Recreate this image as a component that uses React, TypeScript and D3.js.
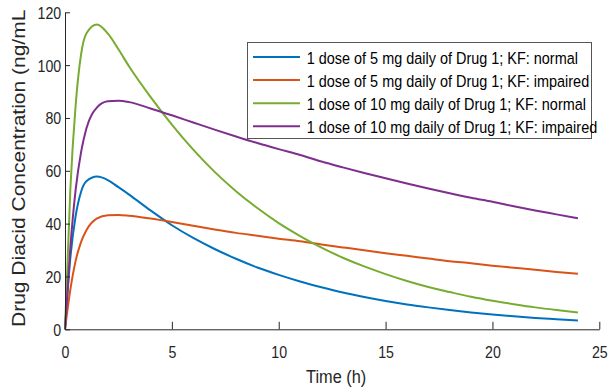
import * as React from "react";
import * as d3 from "d3";

// hours after the dose
const times = [
  0, 0.25, 0.5, 0.75, 1, 1.5, 2, 2.5, 3, 4, 5, 6, 7, 8, 9, 10, 11, 12, 13, 14,
  15, 16, 17, 18, 19, 20, 21, 22, 23, 24,
];

// concentrations (ng/mL)
const dose5Normal = [
  0, 27, 43, 52, 56, 57.8, 56.5, 53.8, 51, 45, 39.4, 34.6, 30.4, 26.7, 23.4,
  20.6, 18.1, 15.9, 13.9, 12.2, 10.7, 9.4, 8.3, 7.3, 6.4, 5.6, 4.9, 4.3, 3.8,
  3.3,
];
const dose5Impaired = [
  0, 15, 26, 33, 37.5, 42, 43.2, 43.3, 43, 41.9, 40.6, 39.2, 37.8, 36.5, 35.4,
  34.3, 33.3, 32.1, 31, 29.9, 28.8, 27.8, 26.8, 25.8, 25, 24.1, 23.3, 22.5,
  21.7, 21.0,
];
const dose10Normal = [
  0, 53, 85, 104, 112, 115.4, 112, 106, 99.5, 88, 77.5, 68, 59.6, 52.3, 45.9,
  40.2, 35.3, 30.9, 27.1, 23.8, 20.9, 18.3, 16.0, 14.1, 12.3, 10.8, 9.5, 8.3,
  7.3, 6.4,
];
const dose10Impaired = [
  0, 31, 53, 67, 76, 84, 86.3, 86.5, 86, 83.6, 81, 78.3, 75.6, 73, 70.5, 68.2,
  66, 63.5, 61.3, 59.2, 57.2, 55.2, 53.3, 51.5, 49.8, 48.3, 46.6, 45, 43.5, 42,
];

const seriesNames = [
  "1 dose of 5 mg daily of Drug 1; KF: normal",
  "1 dose of 5 mg daily of Drug 1; KF: impaired",
  "1 dose of 10 mg daily of Drug 1; KF: normal",
  "1 dose of 10 mg daily of Drug 1; KF: impaired",
];
const seriesColors = ["#0072BD", "#D95319", "#77AC30", "#7E2F8E"];

const xTicks = [0, 5, 10, 15, 20, 25];
const yTicks = [0, 20, 40, 60, 80, 100, 120];

const width = 608;
const height = 387;
const font = '"Liberation Sans", Arial, Helvetica, sans-serif';
const squeeze = 0.86; // text in the figure is a bit narrow
const axisColor = "#262626";

export default function App() {
  const ref = React.useRef<SVGSVGElement>(null);

  React.useEffect(() => {
    const svg = d3.select(ref.current);
    svg.selectAll("*").remove();

    const x = d3.scaleLinear().domain([0, 25]).range([65, 599.3]);
    const y = d3.scaleLinear().domain([0, 120]).range([329.3, 12.3]);

    const series = [dose5Normal, dose5Impaired, dose10Normal, dose10Impaired];

    const line = d3
      .line<number>()
      .x((_, i) => x(times[i]))
      .y((d) => y(d))
      .curve(d3.curveMonotoneX);

    svg
      .append("g")
      .selectAll("path")
      .data(series)
      .join("path")
      .attr("d", (d) => line(d))
      .attr("fill", "none")
      .attr("stroke", (_, i) => seriesColors[i])
      .attr("stroke-width", 2);

    // axes, ticks pointing in like matlab
    const xAxis = d3
      .axisBottom(x)
      .tickValues(xTicks)
      .tickSizeInner(-7.5)
      .tickSizeOuter(0)
      .tickPadding(0);

    const gx = svg
      .append("g")
      .attr("transform", `translate(0, ${y(0)})`)
      .call(xAxis);
    gx.attr("font-family", font).attr("font-size", 16.5);
    gx.selectAll(".domain, .tick line").attr("stroke", axisColor);
    gx.selectAll(".tick text")
      .attr("y", 29)
      .attr("dy", 0)
      .attr("fill", axisColor)
      .attr("transform", `scale(${squeeze},1)`);

    const yAxis = d3
      .axisLeft(y)
      .tickValues(yTicks)
      .tickSizeInner(-5)
      .tickSizeOuter(0)
      .tickPadding(0);

    const gy = svg
      .append("g")
      .attr("transform", `translate(${x(0)}, 0)`)
      .call(yAxis);
    gy.attr("font-family", font).attr("font-size", 16.5);
    gy.selectAll(".domain, .tick line").attr("stroke", axisColor);
    gy.selectAll(".tick text")
      .attr("x", -3.8 / squeeze)
      .attr("dy", "0.36em")
      .attr("fill", axisColor)
      .attr("transform", `scale(${squeeze},1)`);

    svg
      .append("text")
      .attr("transform", `translate(${(x(0) + x(25)) / 2 + 4}, 383.3) scale(${squeeze},1)`)
      .attr("text-anchor", "middle")
      .attr("font-family", font)
      .attr("font-size", 19)
      .attr("fill", axisColor)
      .text("Time (h)");

    svg
      .append("text")
      .attr("transform", `translate(24.5, 327) rotate(-90) scale(1,${squeeze})`)
      .attr("font-family", font)
      .attr("font-size", 21)
      .attr("fill", axisColor)
      .text("Drug Diacid Concentration (ng/mL");

    // legend
    const legend = svg.append("g").attr("transform", "translate(247.5, 42.5)");
    legend
      .append("rect")
      .attr("width", 344)
      .attr("height", 96)
      .attr("fill", "#fff")
      .attr("stroke", "#555")
      .attr("stroke-width", 1);

    const rows = legend
      .selectAll("g.row")
      .data(seriesNames)
      .join("g")
      .attr("class", "row")
      .attr("transform", (_, i) => `translate(0, ${14.5 + i * 23.1})`);

    rows
      .append("line")
      .attr("x1", 5.5)
      .attr("x2", 52.5)
      .attr("stroke", (_, i) => seriesColors[i])
      .attr("stroke-width", 2);

    rows
      .append("text")
      .attr("transform", `translate(59.2, 7) scale(${squeeze},1)`)
      .attr("font-family", font)
      .attr("font-size", 16.8)
      .attr("fill", "#000")
      .text((d) => d);
  }, []);

  return (
    <svg
      ref={ref}
      width={width}
      height={height}
      style={{ position: "absolute", left: 0, top: 0, background: "#fff" }}
    />
  );
}
